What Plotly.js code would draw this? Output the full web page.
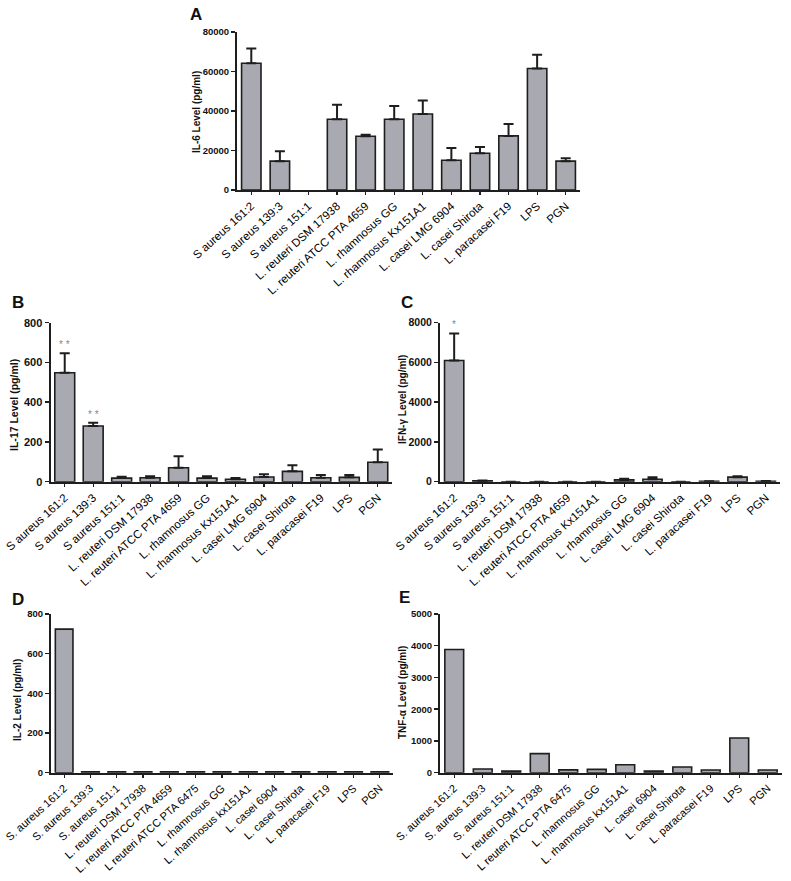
<!DOCTYPE html>
<html>
<head>
<meta charset="utf-8">
<script src="https://cdn.plot.ly/plotly-3.0.1.min.js"></script>
<style>html,body{margin:0;padding:0;background:#fff;}#chart{width:791px;height:881px;}</style>
</head>
<body>
<div id="chart"></div>
<script>
// ---- Data ----
const catsA = ["S aureus 161:2","S aureus 139:3","S aureus 151:1","L. reuteri DSM 17938","L. reuteri ATCC PTA 4659","L. rhamnosus GG","L. rhamnosus Kx151A1","L. casei LMG 6904","L. casei Shirota","L. paracasei F19","LPS","PGN"];
const il6 = [64200, 14600, null, 35800, 27200, 35800, 38500, 15100, 18600, 27400, 61500, 14600];
const il6Err = [7500, 5000, 0, 7400, 800, 6700, 6800, 6200, 3200, 6000, 7000, 1500];

const catsB = ["S aureus 161:2","S aureus 139:3","S aureus 151:1","L. reuteri DSM 17938","L. reuteri ATCC PTA 4659","L. rhamnosus GG","L. rhamnosus Kx151A1","L. casei LMG 6904","L. casei Shirota","L. paracasei F19","LPS","PGN"];
const il17 = [548, 280, 18, 20, 70, 18, 12, 24, 52, 20, 22, 98];
const il17Err = [98, 16, 7, 7, 58, 9, 7, 13, 31, 14, 12, 64];
const il17Stars = ["* *", "* *", "", "", "", "", "", "", "", "", "", ""];

const catsC = ["S aureus 161:2","S aureus 139:3","S aureus 151:1","L. reuteri DSM 17938","L. reuteri ATCC PTA 4659","L. rhamnosus Kx151A1","L. rhamnosus GG","L. casei LMG 6904","L. casei Shirota","L. paracasei F19","LPS","PGN"];
const ifng = [6100, 40, 0, 0, 0, 0, 90, 120, 0, 15, 230, 20];
const ifngErr = [1360, 15, 0, 0, 0, 0, 60, 110, 0, 10, 50, 10];
const ifngStars = ["*", "", "", "", "", "", "", "", "", "", "", ""];

const catsD = ["S. aureus 161:2","S. aureus 139:3","S. aureus 151:1","L. reuteri DSM 17938","L. reuteri ATCC PTA 4659","L reuteri ATCC PTA 6475","L. rhamnosus GG","L. rhamnosus kx151A1","L. casei 6904","L. casei Shirota","L. paracasei F19","LPS","PGN"];
const il2 = [724, 5, 5, 5, 5, 5, 5, 5, 5, 5, 5, 5, 5];

const catsE = ["S. aureus 161:2","S. aureus 139:3","S. aureus 151:1","L. reuteri DSM 17938","L reuteri ATCC PTA 6475","L. rhamnosus GG","L. rhamnosus kx151A1","L. casei 6904","L. casei Shirota","L. paracasei F19","LPS","PGN"];
const tnfa = [3880, 115, 50, 600, 90, 105, 250, 50, 180, 85, 1095, 85];

// ---- Styling / layout helpers ----
const W = 791, H = 881;
const FILL = "#a9a9b1", EDGE = "#1e1e1e";
const FONT = "Liberation Sans, Arial, sans-serif";
const dx = (a, b) => [a / W, b / W];
const dy = (top, bottom) => [(H - bottom) / H, (H - top) / H];

function barTrace(cats, vals, errs, xa, ya, w) {
  const t = {
    type: "bar", x: cats, y: vals, xaxis: xa, yaxis: ya, width: w,
    marker: {color: FILL, line: {color: EDGE, width: 1.6}},
    hoverinfo: "x+y", showlegend: false
  };
  if (errs) {
    t.error_y = {type: "data", symmetric: false, array: errs,
      arrayminus: errs.map(() => 0), color: EDGE, thickness: 2, width: 5};
  }
  return t;
}

function xAxis(domain, n, anchor, size) {
  return {domain: domain, anchor: anchor, type: "category", range: [-0.5, n - 0.5],
    showline: true, linecolor: EDGE, linewidth: 2, ticks: "outside", ticklen: 3,
    tickwidth: 1.2, tickcolor: EDGE, tickangle: -42, showgrid: false, zeroline: false,
    tickfont: {family: FONT, size: size, color: "#000"}, fixedrange: true};
}
function yAxis(domain, range, dtick, anchor, size) {
  return {domain: domain, anchor: anchor, range: range, tick0: 0, dtick: dtick,
    tickformat: "d",
    showline: true, linecolor: EDGE, linewidth: 2, ticks: "outside", ticklen: 4,
    tickwidth: 1.5, tickcolor: EDGE, showgrid: false, zeroline: false,
    tickfont: {family: FONT, size: size, color: "#111", weight: "bold"}, fixedrange: true};
}

const traces = [
  barTrace(catsA, il6, il6Err, "x", "y", 0.68),
  barTrace(catsB, il17, il17Err, "x2", "y2", 0.7),
  barTrace(catsC, ifng, ifngErr, "x3", "y3", 0.68),
  barTrace(catsD, il2, null, "x4", "y4", 0.67),
  barTrace(catsE, tnfa, null, "x5", "y5", 0.66)
];

const annotations = [];
function letter(txt, x, y) {
  annotations.push({text: "<b>" + txt + "</b>", xref: "paper", yref: "paper",
    x: x / W, y: (H - y) / H, showarrow: false, xanchor: "center", yanchor: "middle",
    font: {family: FONT, size: 17, color: "#111"}});
}
function ytitle(txt, x, y, size) {
  annotations.push({text: "<b>" + txt + "</b>", xref: "paper", yref: "paper",
    x: x / W, y: (H - y) / H, showarrow: false, textangle: -90,
    xanchor: "center", yanchor: "middle", font: {family: FONT, size: size, color: "#111"}});
}
function stars(cats, vals, errs, marks, xa, ya) {
  marks.forEach((m, i) => {
    if (!m) return;
    annotations.push({text: m, x: cats[i], y: vals[i] + errs[i], xref: xa, yref: ya,
      showarrow: false, yanchor: "bottom", yshift: 1,
      font: {family: FONT, size: 10, color: "#888"}});
  });
}
letter("A", 196, 14);
letter("B", 18, 302);
letter("C", 407, 302);
letter("D", 18, 599);
letter("E", 404, 598);
ytitle("IL-6 Level (pg/ml)", 196, 112, 10);
ytitle("IL-17 Level (pg/ml)", 14, 405, 10.5);
ytitle("IFN-γ Level (pg/ml)", 402, 400, 10);
ytitle("IL-2 Level (pg/ml)", 17, 700, 10);
ytitle("TNF-α Level (pg/ml)", 402, 693, 10);
stars(catsB, il17, il17Err, il17Stars, "x2", "y2");
stars(catsC, ifng, ifngErr, ifngStars, "x3", "y3");

const layout = {
  width: W, height: H, margin: {l: 0, r: 0, t: 0, b: 0},
  paper_bgcolor: "#fff", plot_bgcolor: "#fff", showlegend: false,
  font: {family: FONT, color: "#111"},
  bargap: 0.3,
  xaxis: xAxis(dx(237, 580), catsA.length, "y", 11.5),
  yaxis: yAxis(dy(32, 190), [0, 80000], 20000, "x", 9.5),
  xaxis2: xAxis(dx(50.5, 392), catsB.length, "y2", 11.5),
  yaxis2: yAxis(dy(322.7, 481.7), [0, 800], 200, "x2", 11),
  xaxis3: xAxis(dx(440, 780), catsC.length, "y3", 11.5),
  yaxis3: yAxis(dy(322.7, 481.7), [0, 8000], 2000, "x3", 10.5),
  xaxis4: xAxis(dx(51, 393), catsD.length, "y4", 11),
  yaxis4: yAxis(dy(614, 772.7), [0, 800], 200, "x4", 9.5),
  xaxis5: xAxis(dx(440, 782), catsE.length, "y5", 11),
  yaxis5: yAxis(dy(614, 772.7), [0, 5000], 1000, "x5", 9.5),
  annotations: annotations
};

Plotly.newPlot("chart", traces, layout, {displayModeBar: false, staticPlot: true});
</script>
</body>
</html>
